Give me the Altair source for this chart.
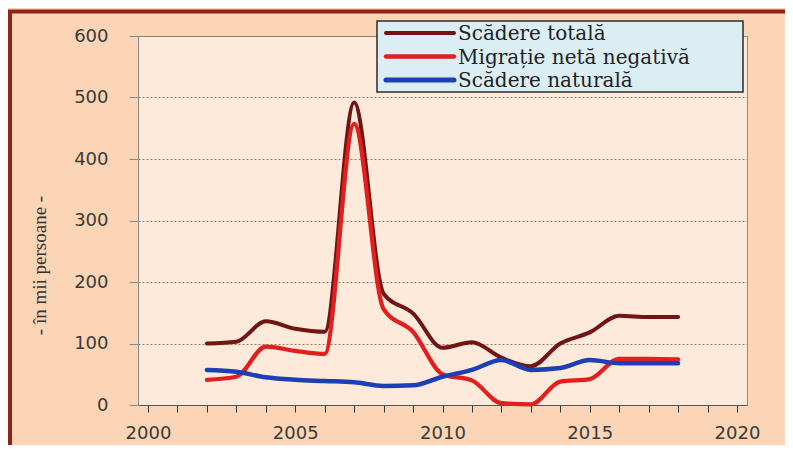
import altair as alt
import pandas as pd

# ---- data ----
years = list(range(2002, 2019))
scadere_totala = [100, 103, 136, 124, 119, 492, 181, 149, 93, 102, 77, 63, 100, 118, 145, 143, 143]
migratie_neta = [41, 46, 95, 88, 83, 457, 156, 119, 50, 40, 3, 1, 38, 42, 75, 75, 74]
scadere_naturala = [57, 54, 45, 41, 39, 37, 31, 32, 46, 57, 73, 57, 60, 73, 68, 68, 68]

series_names = ["Scădere totală", "Migrație netă negativă", "Scădere naturală"]
series_colors = ["#701414", "#e11f1f", "#1d3fb5"]
series_widths = [4, 4.5, 5]
x_ticks = list(range(2000, 2021))
y_ticks = [0, 100, 200, 300, 400, 500, 600]
y_title = "- în mii persoane -"

rows = []
for name, vals in zip(series_names, [scadere_totala, migratie_neta, scadere_naturala]):
    for yr, v in zip(years, vals):
        rows.append({"year": yr, "value": v, "series": name})
df = pd.DataFrame(rows)

one = pd.DataFrame({"k": [0]})

frame = alt.Chart(one).mark_rect(
    fillOpacity=0, stroke="#8c2418", strokeWidth=4
).encode(
    x=alt.value(-128), x2=alt.value(700), y=alt.value(-24.5), y2=alt.value(450)
)

lines = alt.Chart(df).mark_line(interpolate="monotone", strokeCap="round", strokeJoin="round").encode(
    x=alt.X(
        "year:Q",
        scale=alt.Scale(domain=[1999.66, 2020.34], nice=False, zero=False),
        axis=alt.Axis(
            values=x_ticks,
            format="d",
            labelExpr="datum.value % 5 == 0 ? datum.label : ''",
            labelOverlap=False,
            labelFlush=False,
            tickSize=7,
            tickColor="#333333",
            domainColor="#555555",
            labelPadding=12,
            grid=False,
            title=None,
        ),
    ),
    y=alt.Y(
        "value:Q",
        scale=alt.Scale(domain=[0, 600], nice=False),
        axis=alt.Axis(
            values=y_ticks,
            grid=True,
            gridDash=[2, 2],
            gridColor="#9b7b5b",
            gridWidth=1,
            tickSize=9,
            tickColor="#8a8a8a",
            domainColor="#8a8a8a",
            labelPadding=21,
            title=y_title,
            titleX=-99,
            titleY=229,
            titleAlign="center",
            titleBaseline="middle",
            titleFont="Liberation Serif",
            titleFontSize=19,
            titleFontWeight="normal",
            titleColor="#333333",
        ),
    ),
    color=alt.Color("series:N", scale=alt.Scale(domain=series_names, range=series_colors), legend=None),
    strokeWidth=alt.StrokeWidth("series:N", scale=alt.Scale(domain=series_names, range=series_widths), legend=None),
)

legend_box = alt.Chart(one).mark_rect(
    fill="#dbeef4", stroke="#2b2b2b", strokeWidth=1.5
).encode(
    x=alt.value(239), x2=alt.value(605), y=alt.value(-15), y2=alt.value(56)
)

legend_layers = []
for i, (name, col, w) in enumerate(zip(series_names, series_colors, series_widths)):
    ypos = -3 + i * 23.5
    d = pd.DataFrame({"series": [name]})
    legend_layers.append(
        alt.Chart(d).mark_rule(color=col, strokeWidth=w, strokeCap="round").encode(
            x=alt.value(248), x2=alt.value(316), y=alt.value(ypos)
        )
    )
    legend_layers.append(
        alt.Chart(d).mark_text(
            align="left", baseline="middle", font="DejaVu Serif", fontSize=20, color="#222222"
        ).encode(x=alt.value(320), y=alt.value(ypos + 1), text="series:N")
    )

chart = alt.layer(frame, lines, legend_box, *legend_layers).properties(
    width=609,
    height=369,
    padding={"left": 130, "top": 28, "right": 38, "bottom": 40},
    autosize=alt.AutoSizeParams(type="none"),
    background="#fbd5b5",
).configure_view(
    fill="#fdeada", stroke="#8a8a8a", strokeWidth=1
).configure_axis(
    labelFont="DejaVu Sans", labelFontSize=18, labelColor="#3a3a3a"
)

chart.save("out.html", embed_options={"renderer": "svg", "actions": False})
